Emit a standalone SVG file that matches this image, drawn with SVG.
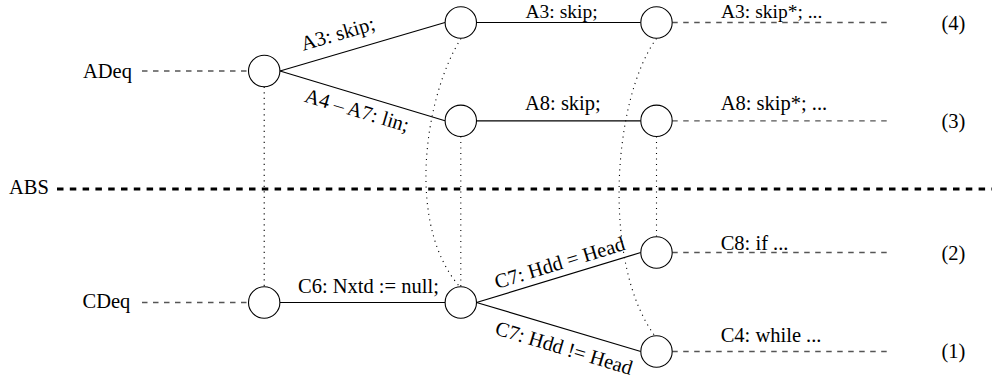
<svg xmlns="http://www.w3.org/2000/svg" width="992" height="379" viewBox="0 0 992 379">
<style>
text{font-family:"Liberation Serif","Times New Roman",serif;font-size:20.5px;fill:#000}
.top{font-size:19.5px}
.node{fill:#fff;stroke:#000;stroke-width:1.1}
.edge{stroke:#000;stroke-width:1.2;fill:none}
.gdash{stroke:#555;stroke-width:1.3;stroke-dasharray:5.5 5.5;fill:none}
.dot{stroke:#000;stroke-width:1.1;stroke-dasharray:1.1 4.4;fill:none}
.abs{stroke:#000;stroke-width:3;stroke-dasharray:6.5 6.3;fill:none}
.mid{text-anchor:middle}
</style>
<rect width="992" height="379" fill="#fff"/>
<g id="connectors">
  <line class="abs" x1="57" y1="189" x2="992" y2="189"/>
  <line class="gdash" x1="142" y1="71" x2="248.5" y2="71"/>
  <line class="gdash" x1="142" y1="302.5" x2="248.5" y2="302.5"/>
  <line class="gdash" x1="672.2" y1="22.5" x2="888" y2="22.5"/>
  <line class="gdash" x1="672.2" y1="120.8" x2="888" y2="120.8"/>
  <line class="gdash" x1="672.2" y1="252.5" x2="888" y2="252.5"/>
  <line class="gdash" x1="672.2" y1="351.5" x2="888" y2="351.5"/>
  <line class="edge" x1="280" y1="71" x2="445" y2="22.5"/>
  <line class="edge" x1="280" y1="71" x2="445" y2="120.8"/>
  <line class="edge" x1="476.5" y1="22.5" x2="640.8" y2="22.5"/>
  <line class="edge" x1="476.5" y1="120.8" x2="640.8" y2="120.8"/>
  <line class="edge" x1="280" y1="302.5" x2="445" y2="302.5"/>
  <line class="edge" x1="476.5" y1="302.5" x2="640.8" y2="252.5"/>
  <line class="edge" x1="476.5" y1="302.5" x2="640.8" y2="351.5"/>
  <line class="dot" x1="264.2" y1="86.8" x2="264.2" y2="286.8"/>
  <line class="dot" x1="460.8" y1="136.5" x2="460.8" y2="286.8"/>
  <line class="dot" x1="656.5" y1="136.5" x2="656.5" y2="236.8"/>
  <path class="dot" d="M461,38.5 C425,95 405,225 460,287"/>
  <path class="dot" d="M656.5,38.5 C612,100 602,265 655,336"/>
  <text transform="translate(280,71) rotate(-16.22)" class="mid" x="66" y="-13">A3: skip;</text>
  <text transform="translate(280,71) rotate(16.54)" class="mid" x="85" y="22.5">A4 – A7: lin;</text>
  <text class="top" x="525.5" y="17.6">A3: skip;</text>
  <text x="525" y="110">A8: skip;</text>
  <text x="298" y="292.5">C6: Nxtd := null;</text>
  <text transform="translate(476.7,302.5) rotate(-16.93)" class="mid" x="91" y="-7">C7: Hdd = Head</text>
  <text transform="translate(476.7,302.5) rotate(16.77)" class="mid" x="96.7" y="25.2">C7: Hdd != Head</text>
  <text class="top" x="721" y="17.6">A3: skip*; ...</text>
  <text x="720.7" y="110">A8: skip*; ...</text>
  <text x="720.7" y="250">C8: if ...</text>
  <text x="720.7" y="342.3">C4: while ...</text>
</g>
<g id="label-abs"><text x="9" y="194">ABS</text></g>
<g id="label-adeq"><text x="83" y="77.5">ADeq</text></g>
<g id="label-cdeq"><text x="82.5" y="308.3">CDeq</text></g>
<g id="n0"><circle class="node" cx="264.2" cy="71" r="15.7"/></g>
<g id="n1"><circle class="node" cx="460.8" cy="22.5" r="15.7"/></g>
<g id="n2"><circle class="node" cx="460.8" cy="120.8" r="15.7"/></g>
<g id="n3"><circle class="node" cx="656.5" cy="22.5" r="15.7"/></g>
<g id="n4"><circle class="node" cx="656.5" cy="120.8" r="15.7"/></g>
<g id="n5"><circle class="node" cx="264.2" cy="302.5" r="15.7"/></g>
<g id="n6"><circle class="node" cx="460.8" cy="302.5" r="15.7"/></g>
<g id="n7"><circle class="node" cx="656.5" cy="252.5" r="15.7"/></g>
<g id="n8"><circle class="node" cx="656.5" cy="351.5" r="15.7"/></g>
<g id="level-4"><text x="941.5" y="30">(4)</text></g>
<g id="level-3"><text x="941.5" y="127.5">(3)</text></g>
<g id="level-2"><text x="941.5" y="260">(2)</text></g>
<g id="level-1"><text x="941.5" y="357.5">(1)</text></g>
</svg>
